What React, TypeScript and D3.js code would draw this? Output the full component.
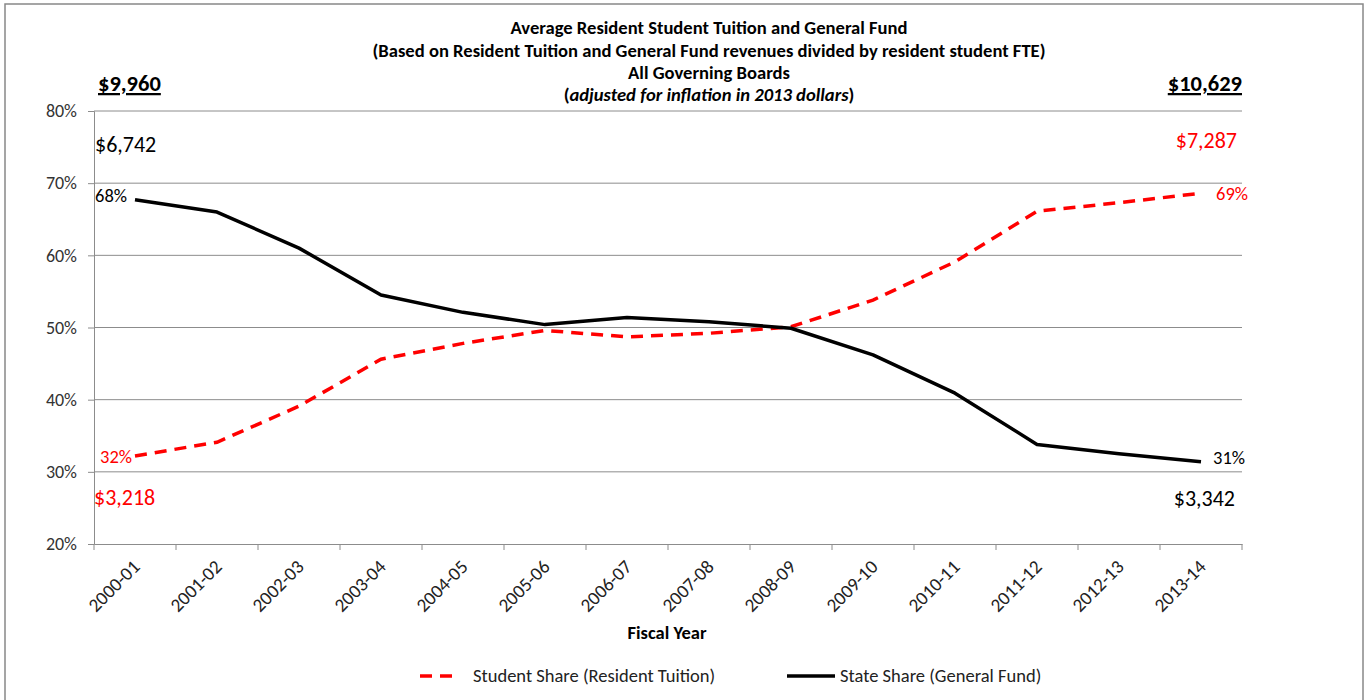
import React, { useEffect, useRef } from 'react';
import * as d3 from 'd3';

const years = ['2000-01', '2001-02', '2002-03', '2003-04', '2004-05', '2005-06', '2006-07',
  '2007-08', '2008-09', '2009-10', '2010-11', '2011-12', '2012-13', '2013-14'];
const studentShare = [32.2, 34.1, 39.1, 45.6, 47.8, 49.6, 48.7, 49.2, 50.1, 53.8, 59.1, 66.1, 67.3, 68.6];
const stateShare = [67.7, 66.0, 61.0, 54.5, 52.1, 50.4, 51.4, 50.8, 49.9, 46.2, 40.9, 33.8, 32.5, 31.4];
const yTicks = [20, 30, 40, 50, 60, 70, 80];
const titleLines = [
  'Average Resident Student Tuition and General Fund',
  '(Based on Resident Tuition and General Fund revenues divided by resident student FTE)',
  'All Governing Boards',
];
const totals = ['$9,960', '$10,629'];
const stateDollars = ['$6,742', '$3,342'];
const studentDollars = ['$3,218', '$7,287'];

const FONT = "Calibri, Carlito, Lato, 'Open Sans', sans-serif";
const RED = '#ff0000';

export default function App() {
  const ref = useRef<SVGSVGElement>(null);

  useEffect(() => {
    if (!ref.current) return;
    const svg = d3.select(ref.current);
    svg.selectAll('*').remove();

    const W = 1369, H = 700;
    const margin = { left: 94, right: 127, top: 111, bottom: 156 };

    svg.append('rect').attr('x', 5).attr('y', 4).attr('width', 1358).attr('height', 705)
      .attr('fill', '#fff').attr('stroke', '#888').attr('stroke-width', 1.5);

    const x = d3.scaleBand().domain(years).range([margin.left, W - margin.right]);
    const y = d3.scaleLinear().domain([20, 80]).range([H - margin.bottom, margin.top]);
    const cx = (d: string) => (x(d) || 0) + x.bandwidth() / 2;

    // grid
    svg.append('g').selectAll('line').data(yTicks.filter(t => t > 20)).join('line')
      .attr('x1', margin.left).attr('x2', W - margin.right)
      .attr('y1', d => y(d)).attr('y2', d => y(d))
      .attr('stroke', '#8c8c8c').attr('stroke-width', 1);

    // y axis
    const ya = svg.append('g').attr('transform', `translate(${margin.left},0)`)
      .call(d3.axisLeft(y).tickValues(yTicks).tickSize(6).tickFormat(d => `${d}%`));
    ya.select('.domain').attr('stroke', '#8c8c8c');
    ya.selectAll('line').attr('stroke', '#8c8c8c');
    ya.selectAll('text').attr('font-family', FONT).attr('font-size', 18).attr('fill', '#333')
      .attr('dx', -8);

    // x axis
    const xa = svg.append('g').attr('transform', `translate(0,${y(20)})`)
      .call(d3.axisBottom(x).tickSize(0).tickFormat(() => ''));
    xa.select('.domain').attr('stroke', '#8c8c8c');
    svg.append('g').selectAll('line').data(d3.range(years.length + 1)).join('line')
      .attr('x1', i => margin.left + i * x.bandwidth()).attr('x2', i => margin.left + i * x.bandwidth())
      .attr('y1', y(20)).attr('y2', y(20) + 6).attr('stroke', '#8c8c8c');
    svg.append('g').selectAll('text').data(years).join('text')
      .attr('transform', d => `translate(${cx(d) + 6},${y(20) + 24}) rotate(-45)`)
      .attr('text-anchor', 'end').attr('font-family', FONT).attr('font-size', 19).attr('fill', '#222')
      .text(d => d);

    // lines
    const line = d3.line<number>().x((_, i) => cx(years[i])).y(d => y(d));
    svg.append('path').datum(studentShare).attr('d', line).attr('fill', 'none')
      .attr('stroke', RED).attr('stroke-width', 3.5).attr('stroke-dasharray', '12,8');
    svg.append('path').datum(stateShare).attr('d', line).attr('fill', 'none')
      .attr('stroke', '#000').attr('stroke-width', 3.5).attr('stroke-linejoin', 'round');

    const txt = (t: string, px: number, py: number, o: any = {}) => {
      const e = svg.append('text').attr('x', px).attr('y', py).attr('font-family', FONT)
        .attr('font-size', o.size || 15).attr('fill', o.fill || '#000')
        .attr('text-anchor', o.anchor || 'start').attr('font-weight', o.weight || 'normal')
        .attr('font-style', o.style || 'normal').text(t);
      if (o.underline) e.attr('text-decoration', 'underline');
      return e;
    };

    // title
    const tcx = 709;
    const TS = 18.6;
    titleLines.forEach((t, i) => txt(t, tcx, 34 + i * 22.5, { weight: 'bold', size: TS, anchor: 'middle' }));
    const sub = svg.append('text').attr('x', tcx).attr('y', 101).attr('text-anchor', 'middle')
      .attr('font-family', FONT).attr('font-size', TS).attr('font-weight', 'bold');
    sub.append('tspan').text('(');
    sub.append('tspan').attr('font-style', 'italic').text('adjusted for inflation in 2013 dollars');
    sub.append('tspan').text(')');

    // totals
    txt(totals[0], 98, 91, { size: 22.5, weight: 'bold', underline: true });
    txt(totals[1], W - margin.right, 91, { size: 22.5, weight: 'bold', underline: true, anchor: 'end' });

    // end labels
    const n = years.length - 1;
    txt(stateDollars[0], 95, 152, { size: 22 });
    txt(studentDollars[1], W - margin.right - 5, 148, { size: 22, fill: RED, anchor: 'end' });
    txt(`${Math.round(stateShare[0])}%`, 95, 202, { size: 18.5 });
    txt(`${Math.round(studentShare[n])}%`, W - margin.right + 6, 200, { size: 18.5, fill: RED, anchor: 'end' });
    txt(`${Math.round(studentShare[0])}%`, 132, 463, { size: 18.5, fill: RED, anchor: 'end' });
    txt(`${Math.round(stateShare[n])}%`, 1213, 464, { size: 18.5 });
    txt(studentDollars[0], 94, 505, { size: 22, fill: RED });
    txt(stateDollars[1], 1235, 506, { size: 22, anchor: 'end' });

    // x title
    txt('Fiscal Year', 667, 639, { size: 18.5, weight: 'bold', anchor: 'middle' });

    // legend
    svg.append('line').attr('x1', 420).attr('x2', 459).attr('y1', 676).attr('y2', 676)
      .attr('stroke', RED).attr('stroke-width', 3.5).attr('stroke-dasharray', '12,8');
    txt('Student Share (Resident Tuition)', 473, 682, { size: 18.5, fill: '#222' });
    svg.append('line').attr('x1', 787).attr('x2', 835).attr('y1', 676).attr('y2', 676)
      .attr('stroke', '#000').attr('stroke-width', 3.5);
    txt('State Share (General Fund)', 840, 682, { size: 18.5, fill: '#222' });
  }, []);

  return (
    <svg ref={ref} width={1369} height={700}
      style={{ position: 'absolute', left: 0, top: 0, background: '#fff' }} />
  );
}
